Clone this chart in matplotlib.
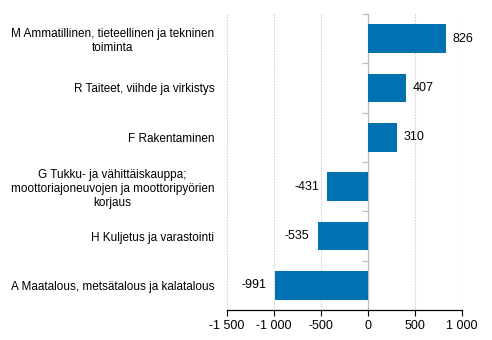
import numpy as np
import matplotlib
matplotlib.use("Agg")
import matplotlib.pyplot as plt

plt.rcParams['font.family'] = ['Liberation Sans', 'DejaVu Sans']

categories = [
    "M Ammatillinen, tieteellinen ja tekninen\ntoiminta",
    "R Taiteet, viihde ja virkistys",
    "F Rakentaminen",
    "G Tukku- ja vähittäiskauppa;\nmoottoriajoneuvojen ja moottoripyörien\nkorjaus",
    "H Kuljetus ja varastointi",
    "A Maatalous, metsätalous ja kalatalous",
]
values = [826, 407, 310, -431, -535, -991]
xticks = [-1500, -1000, -500, 0, 500, 1000]
xtick_labels = ["-1 500", "-1 000", "-500", "0", "500", "1 000"]

bar_color = "#0072b1"
fs_cat = 8.5
fs_num = 9

fig = plt.figure(figsize=(4.92, 3.4), dpi=100)
ax = fig.add_axes([0.461, 0.088, 0.478, 0.871])

y = np.arange(len(categories))
ax.barh(y, values, height=0.58, color=bar_color, zorder=3)

ax.set_xlim(-1500, 1000)
ax.set_ylim(len(categories) - 0.5, -0.5)

# grid
for xt in xticks:
    if xt != 0:
        ax.axvline(xt, color="#d4d4d4", lw=0.8, ls=(0, (1.5, 1)), zorder=1)
ax.axvline(0, color="#bdbdbd", lw=0.9, zorder=2)
bounds = np.arange(len(categories) + 1) - 0.5
ax.plot(np.zeros_like(bounds), bounds, ls="", marker=0, ms=4, mew=0.9,
        color="#bdbdbd", zorder=2, clip_on=False)

ax.set_xticks(xticks)
ax.set_xticklabels(xtick_labels, fontsize=fs_num)
ax.set_yticks(y)
ax.set_yticklabels(categories, fontsize=fs_cat, multialignment="center")
ax.tick_params(axis="y", length=0, pad=9)
ax.tick_params(axis="x", length=4, width=0.8, color="black", pad=3)

for s in ["top", "right", "left"]:
    ax.spines[s].set_visible(False)
ax.spines["bottom"].set_color("black")
ax.spines["bottom"].set_linewidth(0.9)

for yi, v in zip(y, values):
    if v >= 0:
        ax.annotate(f"{v}", (v, yi), xytext=(5, 0), textcoords="offset points",
                    ha="left", va="center", fontsize=fs_num)
    else:
        ax.annotate(f"{v}", (v, yi), xytext=(-6, 0), textcoords="offset points",
                    ha="right", va="center", fontsize=fs_num)

fig.savefig("out.png", dpi=100)
